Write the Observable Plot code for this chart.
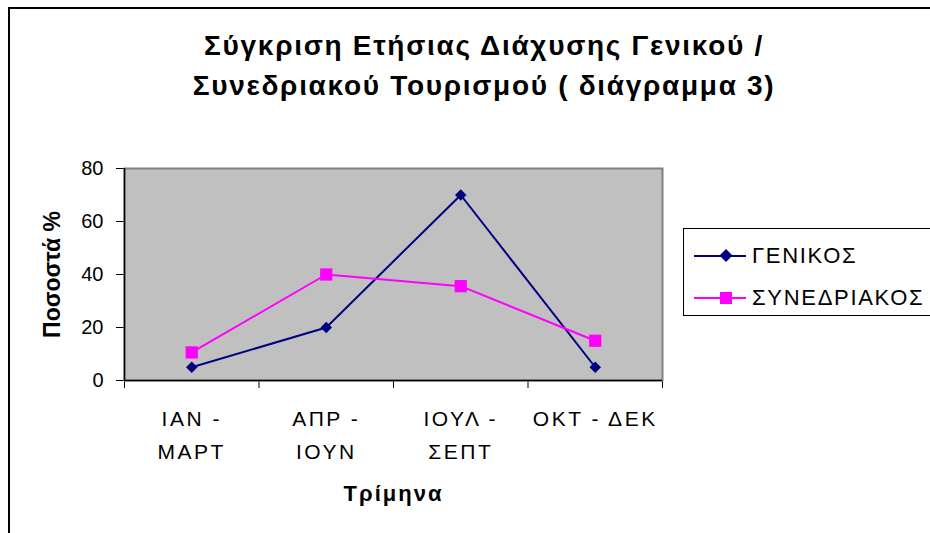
<!DOCTYPE html>
<html><head><meta charset="utf-8">
<script src="https://cdn.jsdelivr.net/npm/d3@7"></script>
<script src="https://cdn.jsdelivr.net/npm/@observablehq/plot@0.6"></script>
<style>
body{margin:0;background:#fff;font-family:"Liberation Sans",Arial,sans-serif;}
#wrap{position:relative;width:930px;height:533px;overflow:hidden;background:#fff;}
#chart{position:absolute;left:0;top:0;}
#border{position:absolute;left:8px;top:7px;width:960px;height:600px;border-left:2px solid #000;border-top:2px solid #000;pointer-events:none;}
#title{position:absolute;left:4px;width:960px;top:26px;text-align:center;font-weight:bold;font-size:28px;letter-spacing:1.7px;line-height:40px;color:#000;}
#legend{position:absolute;left:683px;top:228px;width:300px;height:86px;border:1px solid #000;background:#fff;}
#legend .item{position:absolute;left:8px;height:30px;display:flex;align-items:center;font-size:22px;letter-spacing:1.7px;white-space:nowrap;}
#legend svg{margin-right:6px;}
</style></head>
<body>
<div id="wrap">
  <div id="chart"></div>
  <div id="border"></div>
  <div id="title"></div>
  <div id="legend"></div>
</div>
<script>
const categories = ["ΙΑΝ - ΜΑΡΤ", "ΑΠΡ - ΙΟΥΝ", "ΙΟΥΛ - ΣΕΠΤ", "ΟΚΤ - ΔΕΚ"];
const tickLabels = ["ΙΑΝ -\nΜΑΡΤ", "ΑΠΡ -\nΙΟΥΝ", "ΙΟΥΛ -\nΣΕΠΤ", "ΟΚΤ - ΔΕΚ"];
const genikos = [5, 20, 70, 5];
const synedriakos = [10.6, 40, 35.6, 15];
const seriesNames = ["ΓΕΝΙΚΟΣ", "ΣΥΝΕΔΡΙΑΚΟΣ"];
const seriesColors = ["#000080", "#ff00ff"];
const yTicks = [0, 20, 40, 60, 80];
const titleLines = ["Σύγκριση Ετήσιας Διάχυσης Γενικού /", "Συνεδριακού Τουρισμού ( διάγραμμα 3)"];
const yLabel = "Ποσοστά %";
const xLabel = "Τρίμηνα";

const idx = categories.map((c, i) => i);
const xBounds = d3.range(categories.length + 1);
const genData = categories.map((c, i) => ({i, cat: c, value: genikos[i]}));
const synData = categories.map((c, i) => ({i, cat: c, value: synedriakos[i]}));
const xPos = d => d.i + 0.5;

const chart = Plot.plot({
  width: 930,
  height: 533,
  marginLeft: 124,
  marginTop: 168,
  marginRight: 268,
  marginBottom: 153,
  style: {fontSize: "20px", fontFamily: "'Liberation Sans', Arial, sans-serif", background: "transparent", color: "#000"},
  x: {domain: [0, categories.length], ticks: xBounds, tickFormat: () => "", tickSize: 8, label: null},
  y: {domain: [0, 80], ticks: yTicks, tickSize: 8, tickPadding: 13, label: null},
  marks: [
    Plot.frame({fill: "#c0c0c0", stroke: "#808080", strokeWidth: 2}),
    Plot.ruleY([0], {stroke: "#000", strokeWidth: 1.5}),
    Plot.ruleX([0], {stroke: "#000", strokeWidth: 1.5}),
    Plot.line(genData, {x: xPos, y: "value", stroke: seriesColors[0], strokeWidth: 2}),
    Plot.line(synData, {x: xPos, y: "value", stroke: seriesColors[1], strokeWidth: 2}),
    Plot.dot(synData, {x: xPos, y: "value", symbol: "square", r: 6.9, fill: seriesColors[1], stroke: "none"}),
    Plot.dot(genData, {x: xPos, y: "value", symbol: "diamond2", r: 5.2, fill: seriesColors[0], stroke: "none"}),
    Plot.text(idx, {x: i => i + 0.5, frameAnchor: "bottom", lineAnchor: "top", dy: 22, text: i => tickLabels[i], fontSize: 21, lineHeight: 1.57}),
    Plot.text([xLabel], {frameAnchor: "bottom", lineAnchor: "top", dy: 105, text: d => d, fontSize: 22, fontWeight: "bold"}),
    Plot.text([yLabel], {frameAnchor: "left", textAnchor: "middle", rotate: -90, dx: -72, text: d => d, fontSize: 23, fontWeight: "bold"})
  ]
});
document.getElementById("chart").appendChild(chart);

// letter spacing for the category tick labels and the x-axis title
const textGroups = d3.select(chart).selectAll('g[aria-label="text"]').nodes();
const spacings = ["2.5px", "2px"];
textGroups.forEach((g, k) => { if (spacings[k]) d3.select(g).style("letter-spacing", spacings[k]); });

document.getElementById("title").innerHTML = titleLines.map(t => `<div>${t}</div>`).join("");

const legend = document.getElementById("legend");
seriesNames.forEach((name, k) => {
  const item = document.createElement("div");
  item.className = "item";
  item.style.top = (12 + k * 42) + "px";
  const marker = k === 0
    ? `<path d="M34,8 L40.5,14.5 L34,21 L27.5,14.5Z" fill="${seriesColors[0]}"/>`
    : `<rect x="28" y="9" width="12" height="12" fill="${seriesColors[1]}"/>`;
  item.innerHTML = `<svg width="54" height="30"><line x1="2" x2="54" y1="15" y2="15" stroke="${seriesColors[k]}" stroke-width="2"/>${marker}</svg><span>${name}</span>`;
  legend.appendChild(item);
});
</script>
</body></html>
